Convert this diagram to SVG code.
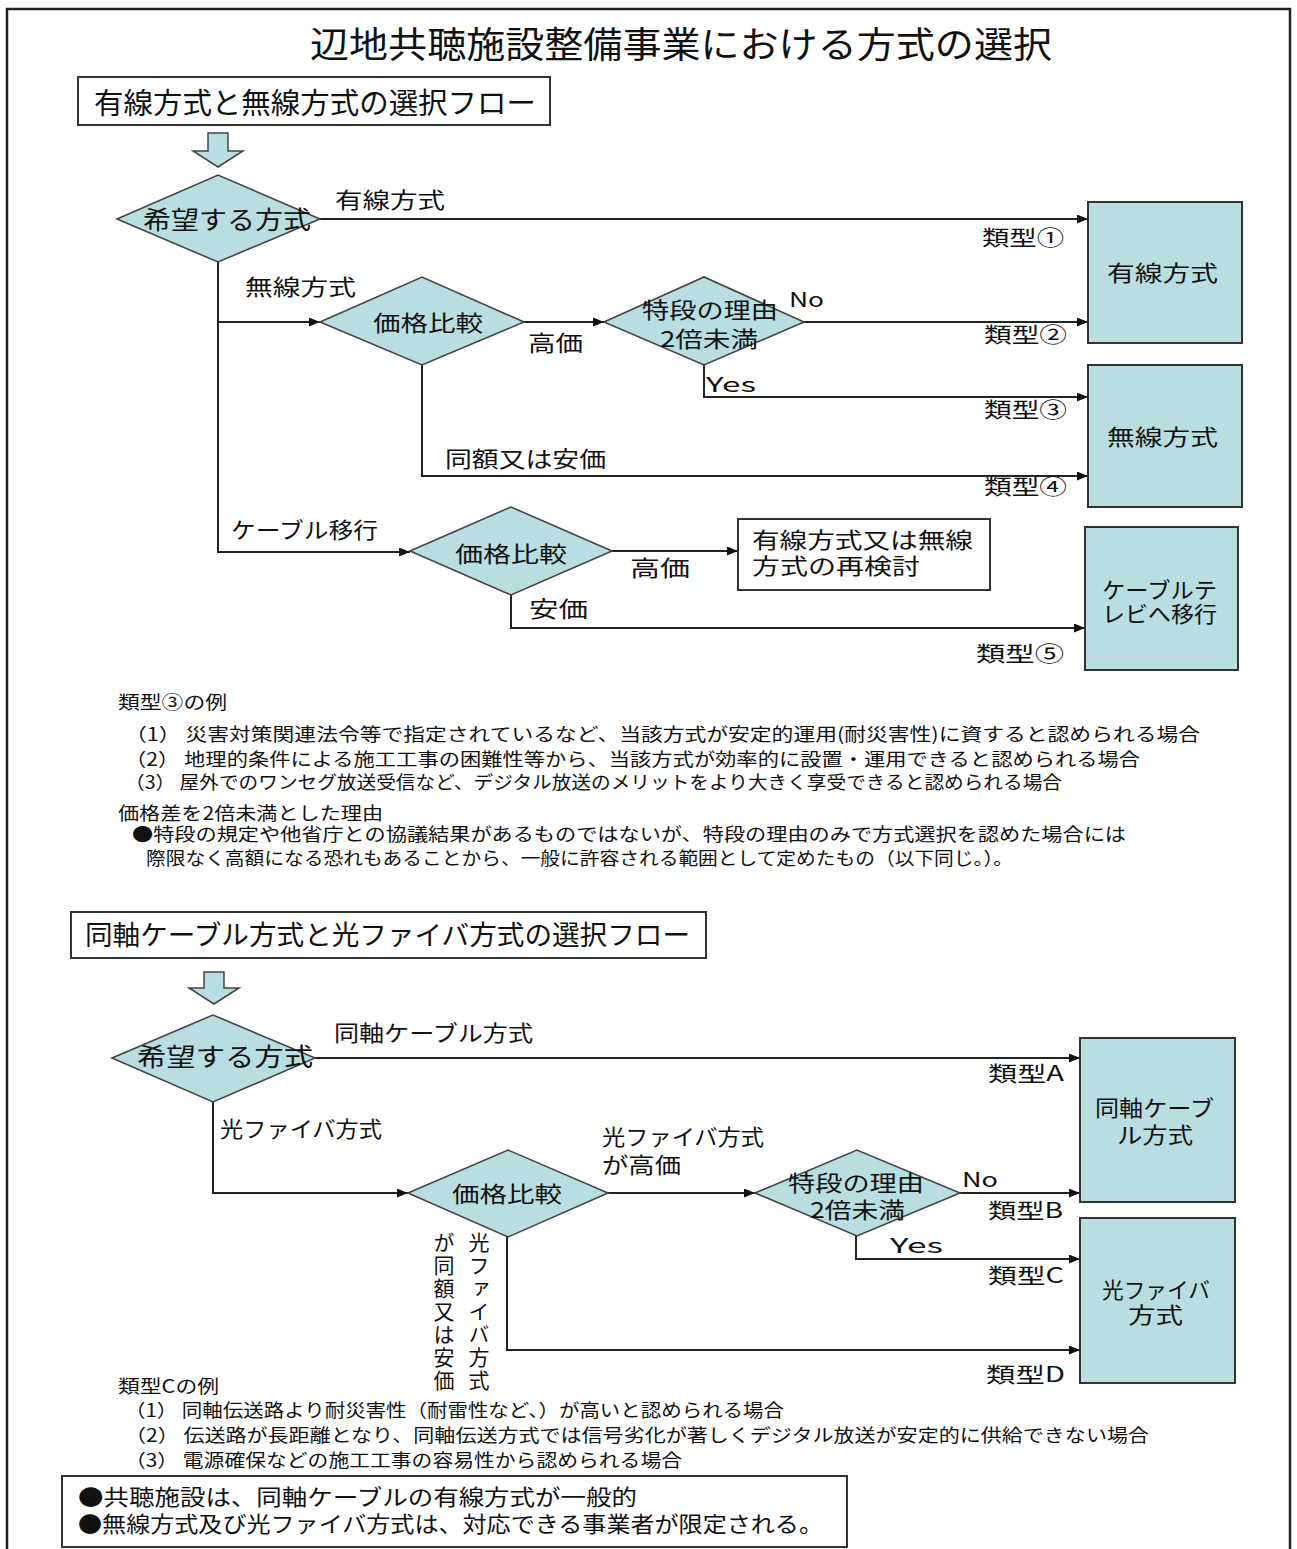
<svg xmlns="http://www.w3.org/2000/svg" width="1297" height="1549" viewBox="0 0 1297 1549">
<style>
text{font-family:"Noto Sans CJK JP","Noto Sans",sans-serif;fill:#111;}
.t22{font-size:22px;}
.t21{font-size:21px;}
.t20{font-size:20px;}
.n{font-size:18px;}
.vt{font-size:21px;writing-mode:vertical-rl;letter-spacing:2px;}
.node{fill:#b8dee1;stroke:#333;stroke-width:2;}
.dia{fill:#b8dee1;stroke:#444;stroke-width:1.6;}
.wbox{fill:#fff;stroke:#333;stroke-width:2;}
.ln{fill:none;stroke:#222;stroke-width:2;}
.blk{fill:#b8dee1;stroke:#444;stroke-width:1.5;}
</style>
<defs>
<marker id="ah" markerUnits="userSpaceOnUse" markerWidth="11" markerHeight="9" refX="11" refY="4.5" orient="auto">
<path d="M0,0 L11,4.5 L0,9 z" fill="#111"/>
</marker>
</defs>
<rect x="0" y="0" width="1297" height="1549" fill="#fff"/>
<rect x="7" y="9" width="1283" height="1580" fill="none" stroke="#222" stroke-width="2.5"/>

<text x="310" y="58" font-size="36" textLength="742" lengthAdjust="spacingAndGlyphs">辺地共聴施設整備事業における方式の選択</text>

<g id="header1">
<rect class="wbox" x="78" y="77" width="472" height="48"/>
<text x="94" y="114" font-size="29" textLength="442" lengthAdjust="spacingAndGlyphs">有線方式と無線方式の選択フロー</text>
</g>

<g id="connectors">
<polygon class="blk" points="208,133 228,133 228,151 243,151 218,167 193,151 208,151"/>
<polygon class="blk" points="204,972 224,972 224,988 239,988 214,1004 189,988 204,988"/>
<line class="ln" x1="320" y1="219" x2="1088" y2="219" marker-end="url(#ah)"/>
<polyline class="ln" points="218,262 218,552 410,552" marker-end="url(#ah)"/>
<line class="ln" x1="218" y1="322" x2="320" y2="322" marker-end="url(#ah)"/>
<line class="ln" x1="524" y1="322" x2="604" y2="322" marker-end="url(#ah)"/>
<line class="ln" x1="804" y1="322" x2="1088" y2="322" marker-end="url(#ah)"/>
<polyline class="ln" points="704,365 704,397 1088,397" marker-end="url(#ah)"/>
<polyline class="ln" points="422,365 422,476 1088,476" marker-end="url(#ah)"/>
<line class="ln" x1="612" y1="551" x2="738" y2="551" marker-end="url(#ah)"/>
<polyline class="ln" points="511,595 511,628 1085,628" marker-end="url(#ah)"/>
<line class="ln" x1="315" y1="1058" x2="1080" y2="1058" marker-end="url(#ah)"/>
<polyline class="ln" points="213,1102 213,1193 408,1193" marker-end="url(#ah)"/>
<line class="ln" x1="608" y1="1193" x2="755" y2="1193" marker-end="url(#ah)"/>
<line class="ln" x1="960" y1="1193" x2="1080" y2="1193" marker-end="url(#ah)"/>
<polyline class="ln" points="856,1236 856,1259 1080,1259" marker-end="url(#ah)"/>
<polyline class="ln" points="507,1237 507,1350 1080,1350" marker-end="url(#ah)"/>
</g>

<g id="labels1">
<text class="t22" x="335" y="208" textLength="110" lengthAdjust="spacingAndGlyphs">有線方式</text>
<text class="t21" x="982" y="245" textLength="82" lengthAdjust="spacingAndGlyphs">類型①</text>
<text class="t22" x="245" y="295" textLength="111" lengthAdjust="spacingAndGlyphs">無線方式</text>
<text class="t22" x="528" y="351" textLength="55" lengthAdjust="spacingAndGlyphs">高価</text>
<text class="t20" x="789" y="307" textLength="35" lengthAdjust="spacingAndGlyphs">No</text>
<text class="t21" x="984" y="342" textLength="83" lengthAdjust="spacingAndGlyphs">類型②</text>
<text class="t20" x="706" y="392" textLength="50" lengthAdjust="spacingAndGlyphs">Yes</text>
<text class="t21" x="984" y="417" textLength="83" lengthAdjust="spacingAndGlyphs">類型③</text>
<text class="t22" x="445" y="467" textLength="161" lengthAdjust="spacingAndGlyphs">同額又は安価</text>
<text class="t21" x="984" y="494" textLength="83" lengthAdjust="spacingAndGlyphs">類型④</text>
<text class="t22" x="231" y="538" textLength="147" lengthAdjust="spacingAndGlyphs">ケーブル移行</text>
<text class="t22" x="630" y="576" textLength="60" lengthAdjust="spacingAndGlyphs">高価</text>
<text class="t22" x="529" y="617" textLength="59" lengthAdjust="spacingAndGlyphs">安価</text>
<text class="t21" x="976" y="661" textLength="88" lengthAdjust="spacingAndGlyphs">類型⑤</text>
</g>

<g id="d1">
<polygon class="dia" points="117,219 218,175 320,219 218,262"/>
<text x="143" y="229" font-size="25" textLength="168" lengthAdjust="spacingAndGlyphs">希望する方式</text>
</g>
<g id="d2">
<polygon class="dia" points="320,322 422,277 524,322 422,365"/>
<text class="t22" x="373" y="331" textLength="110" lengthAdjust="spacingAndGlyphs">価格比較</text>
</g>
<g id="d3">
<polygon class="dia" points="604,322 704,277 804,322 704,365"/>
<text class="t22" x="642" y="318" textLength="136" lengthAdjust="spacingAndGlyphs">特段の理由</text>
<text class="t22" x="660" y="347" textLength="98" lengthAdjust="spacingAndGlyphs">2倍未満</text>
</g>
<g id="d4">
<polygon class="dia" points="410,551 511,507 612,551 511,595"/>
<text class="t22" x="455" y="562" textLength="112" lengthAdjust="spacingAndGlyphs">価格比較</text>
</g>
<g id="box-yusen">
<rect class="node" x="1088" y="202" width="154" height="141"/>
<text class="t22" x="1107" y="281" textLength="111" lengthAdjust="spacingAndGlyphs">有線方式</text>
</g>
<g id="box-musen">
<rect class="node" x="1088" y="365" width="154" height="142"/>
<text class="t22" x="1107" y="445" textLength="111" lengthAdjust="spacingAndGlyphs">無線方式</text>
</g>
<g id="box-catv">
<rect class="node" x="1085" y="527" width="153" height="143"/>
<text class="t22" x="1102" y="598" textLength="115" lengthAdjust="spacingAndGlyphs">ケーブルテ</text>
<text class="t22" x="1102" y="622" textLength="115" lengthAdjust="spacingAndGlyphs">レビへ移行</text>
</g>
<g id="box-reconsider">
<rect class="wbox" x="738" y="519" width="252" height="71"/>
<text class="t22" x="752" y="548" textLength="221" lengthAdjust="spacingAndGlyphs">有線方式又は無線</text>
<text class="t22" x="752" y="574" textLength="168" lengthAdjust="spacingAndGlyphs">方式の再検討</text>
</g>

<g id="notes1">
<text class="n" x="118" y="709" textLength="109" lengthAdjust="spacingAndGlyphs">類型③の例</text>
<text class="n" x="125" y="741" textLength="1075" lengthAdjust="spacingAndGlyphs">（1） 災害対策関連法令等で指定されているなど、当該方式が安定的運用(耐災害性)に資すると認められる場合</text>
<text class="n" x="125" y="766" textLength="1015" lengthAdjust="spacingAndGlyphs">（2） 地理的条件による施工工事の困難性等から、当該方式が効率的に設置・運用できると認められる場合</text>
<text class="n" x="125" y="789" textLength="937" lengthAdjust="spacingAndGlyphs">（3） 屋外でのワンセグ放送受信など、デジタル放送のメリットをより大きく享受できると認められる場合</text>
<text class="n" x="118" y="820" textLength="265" lengthAdjust="spacingAndGlyphs">価格差を2倍未満とした理由</text>
<text class="n" x="132" y="841" textLength="994" lengthAdjust="spacingAndGlyphs">●特段の規定や他省庁との協議結果があるものではないが、特段の理由のみで方式選択を認めた場合には</text>
<text class="n" x="146" y="865" textLength="867" lengthAdjust="spacingAndGlyphs">際限なく高額になる恐れもあることから、一般に許容される範囲として定めたもの（以下同じ。）。</text>
</g>

<g id="header2">
<rect class="wbox" x="71" y="912" width="635" height="46"/>
<text x="85" y="945" font-size="27" textLength="605" lengthAdjust="spacingAndGlyphs">同軸ケーブル方式と光ファイバ方式の選択フロー</text>
</g>

<g id="labels2">
<text class="t22" x="334" y="1041" textLength="199" lengthAdjust="spacingAndGlyphs">同軸ケーブル方式</text>
<text class="t21" x="988" y="1081" textLength="76" lengthAdjust="spacingAndGlyphs">類型A</text>
<text class="t22" x="220" y="1137" textLength="162" lengthAdjust="spacingAndGlyphs">光ファイバ方式</text>
<text class="t22" x="602" y="1145" textLength="162" lengthAdjust="spacingAndGlyphs">光ファイバ方式</text>
<text class="t22" x="602" y="1173" textLength="79" lengthAdjust="spacingAndGlyphs">が高価</text>
<text class="t20" x="962" y="1187" textLength="36" lengthAdjust="spacingAndGlyphs">No</text>
<text class="t21" x="988" y="1218" textLength="75" lengthAdjust="spacingAndGlyphs">類型B</text>
<text class="t20" x="890" y="1253" textLength="53" lengthAdjust="spacingAndGlyphs">Yes</text>
<text class="t21" x="988" y="1283" textLength="76" lengthAdjust="spacingAndGlyphs">類型C</text>
<text class="t21" x="986" y="1382" textLength="79" lengthAdjust="spacingAndGlyphs">類型D</text>
<text class="vt" x="479" y="1232">光ファイバ方式</text>
<text class="vt" x="444" y="1232">が同額又は安価</text>
</g>

<g id="d5">
<polygon class="dia" points="112,1058 213,1015 315,1058 213,1102"/>
<text x="137" y="1066" font-size="25" textLength="176" lengthAdjust="spacingAndGlyphs">希望する方式</text>
</g>
<g id="d6">
<polygon class="dia" points="408,1193 508,1150 608,1193 508,1237"/>
<text class="t22" x="452" y="1202" textLength="110" lengthAdjust="spacingAndGlyphs">価格比較</text>
</g>
<g id="d7">
<polygon class="dia" points="755,1193 857,1150 960,1193 857,1236"/>
<text class="t22" x="788" y="1191" textLength="136" lengthAdjust="spacingAndGlyphs">特段の理由</text>
<text class="t22" x="810" y="1218" textLength="95" lengthAdjust="spacingAndGlyphs">2倍未満</text>
</g>
<g id="box-coax">
<rect class="node" x="1080" y="1038" width="155" height="164"/>
<text class="t22" x="1095" y="1116" textLength="119" lengthAdjust="spacingAndGlyphs">同軸ケーブ</text>
<text class="t22" x="1117" y="1143" textLength="76" lengthAdjust="spacingAndGlyphs">ル方式</text>
</g>
<g id="box-fiber">
<rect class="node" x="1080" y="1218" width="155" height="165"/>
<text class="t22" x="1102" y="1298" textLength="108" lengthAdjust="spacingAndGlyphs">光ファイバ</text>
<text class="t22" x="1128" y="1323" textLength="55" lengthAdjust="spacingAndGlyphs">方式</text>
</g>

<g id="notes2">
<text class="n" x="118" y="1393" textLength="101" lengthAdjust="spacingAndGlyphs">類型Cの例</text>
<text class="n" x="125" y="1417" textLength="659" lengthAdjust="spacingAndGlyphs">（1） 同軸伝送路より耐災害性（耐雷性など、）が高いと認められる場合</text>
<text class="n" x="125" y="1442" textLength="1024" lengthAdjust="spacingAndGlyphs">（2） 伝送路が長距離となり、同軸伝送方式では信号劣化が著しくデジタル放送が安定的に供給できない場合</text>
<text class="n" x="125" y="1467" textLength="557" lengthAdjust="spacingAndGlyphs">（3） 電源確保などの施工工事の容易性から認められる場合</text>
</g>

<g id="summary">
<rect class="wbox" x="62" y="1476" width="785" height="71"/>
<text x="78" y="1505" font-size="22" textLength="559" lengthAdjust="spacingAndGlyphs">●共聴施設は、同軸ケーブルの有線方式が一般的</text>
<text x="78" y="1532" font-size="22" textLength="745" lengthAdjust="spacingAndGlyphs">●無線方式及び光ファイバ方式は、対応できる事業者が限定される。</text>
</g>
</svg>
